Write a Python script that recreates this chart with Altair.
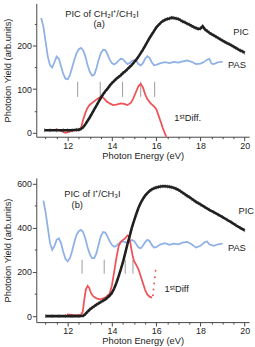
import altair as alt
import pandas as pd

FONT = "Liberation Sans"
X_DOMAIN = [10.58, 20.2]

# ---------------- panel (a): CH2I+ / CH3I ----------------
pic_a_ev = [10.95, 11.2, 11.5, 11.8, 12.0, 12.2, 12.4, 12.5, 12.6, 12.7, 12.8, 12.9, 13.0, 13.1,
            13.2, 13.3, 13.4, 13.5, 13.6, 13.7, 13.8, 13.9, 14.0, 14.1, 14.2, 14.3, 14.4, 14.5,
            14.6, 14.7, 14.8, 14.9, 15.0, 15.1, 15.2, 15.3, 15.4, 15.5, 15.6, 15.7, 15.8, 15.9,
            16.0, 16.1, 16.2, 16.3, 16.4, 16.5, 16.6, 16.7, 16.8, 16.9, 17.0, 17.1, 17.2, 17.3,
            17.4, 17.5, 17.6, 17.7, 17.8, 17.9, 18.0, 18.1, 18.2, 18.3, 18.4, 18.5, 18.6, 18.7,
            18.8, 18.9, 19.0, 19.1, 19.2, 19.3, 19.4, 19.5, 19.6, 19.7, 19.8, 19.9, 20.0]
pic_a = [5, 5, 5, 5, 5, 5, 6, 6, 8, 12, 19, 27, 35, 44,
         53, 62, 71, 80, 88, 95, 101, 108, 114, 119, 124, 128, 132, 137,
         141, 146, 151, 156, 162, 168, 175, 183, 191, 200, 209, 218, 226, 234,
         242, 248, 253, 257, 260, 262, 263, 265, 264, 263, 262, 259, 256, 254,
         251, 249, 246, 243, 241, 239, 240, 245, 238, 234, 230, 227, 224, 221,
         218, 215, 212, 209, 206, 204, 201, 198, 195, 192, 189, 187, 184]

pas_a_ev = [10.8, 10.9, 11.0, 11.1, 11.2, 11.3, 11.4, 11.5, 11.6, 11.7, 11.8, 11.9, 12.0, 12.1,
            12.2, 12.3, 12.4, 12.5, 12.6, 12.7, 12.8, 12.9, 13.0, 13.1, 13.2, 13.3, 13.4, 13.5,
            13.6, 13.7, 13.8, 13.9, 14.0, 14.1, 14.2, 14.3, 14.4, 14.5, 14.6, 14.7, 14.8, 14.9,
            15.0, 15.1, 15.2, 15.3, 15.4, 15.5, 15.6, 15.7, 15.8, 15.9, 16.0, 16.2, 16.4, 16.6,
            16.8, 17.0, 17.2, 17.4, 17.6, 17.8, 18.0, 18.1, 18.2, 18.3, 18.4, 18.5, 18.6, 18.7,
            18.8, 18.9, 19.0]
pas_a = [264, 245, 210, 175, 155, 150, 162, 175, 170, 152, 135, 124, 123, 132,
         150, 168, 183, 192, 195, 190, 175, 155, 140, 131, 133, 148, 168, 183,
         191, 190, 180, 168, 160, 157, 160, 166, 170, 169, 163, 158, 160, 165,
         167, 165, 158, 155, 160, 170, 176, 172, 162, 155, 156, 160, 162, 160,
         163, 161, 164, 166, 163, 158, 159, 161, 164, 168, 170, 159, 158, 160,
         162, 163, 163]

diff_a_ev = [11.45, 11.6, 11.75, 11.9, 12.05, 12.2, 12.35, 12.5, 12.6, 12.7, 12.8, 12.9, 13.0,
             13.15, 13.3, 13.45, 13.55, 13.65, 13.75, 13.9, 14.05, 14.2, 14.4, 14.55, 14.7,
             14.85, 14.95, 15.1, 15.2, 15.3, 15.4, 15.5, 15.6, 15.75, 15.9, 16.0, 16.1,
             16.2, 16.3, 16.4, 16.5]
diff_a = [7, 6, 2, -1, 1, 4, 5, 5, 10, 30, 45, 57, 64,
          70, 76, 81, 82, 78, 72, 67, 63, 64, 67, 66, 63,
          68, 77, 95, 107, 112, 104, 88, 77, 67, 60, 54, 40,
          25, 10, -3, -15]

marks_a_ev = [12.45, 13.47, 14.48, 15.3, 15.93]
marks_a_lo = [82, 82, 82, 82, 82]
marks_a_hi = [117, 117, 117, 117, 117]

text_a = ["PIC of CH\u2082I\u207a/CH\u2083I", "(a)", "PIC", "PAS", "1\u02e2\u1d57Diff."]
text_a_ev = [13.55, 13.42, 19.48, 19.25, 16.82]
text_a_val = [274, 251, 232, 155, 32]
text_a_align = ["center", "center", "left", "left", "left"]

# ---------------- panel (b): I+ / CH3I ----------------
pic_b_ev = [11.0, 11.3, 11.6, 11.9, 12.2, 12.5, 12.7, 12.8, 12.9, 13.0, 13.1, 13.2, 13.3, 13.4,
            13.5, 13.6, 13.7, 13.8, 13.9, 14.0, 14.1, 14.2, 14.3, 14.4, 14.5, 14.6, 14.7, 14.8,
            14.9, 15.0, 15.1, 15.2, 15.3, 15.4, 15.5, 15.6, 15.7, 15.8, 15.9, 16.0, 16.1, 16.2,
            16.3, 16.4, 16.5, 16.6, 16.7, 16.8, 16.9, 17.0, 17.1, 17.2, 17.3, 17.4, 17.5, 17.6,
            17.7, 17.8, 17.9, 18.0, 18.2, 18.4, 18.6, 18.8, 19.0, 19.2, 19.4, 19.6, 19.8, 20.0]
pic_b = [0, 0, 0, 0, 0, 0, 2, 10, 20, 30, 38, 45, 52, 58,
         64, 70, 76, 84, 93, 105, 125, 150, 180, 212, 245, 285, 325, 362,
         400, 432, 462, 490, 512, 530, 545, 556, 566, 573, 578, 582, 584, 586,
         587, 587, 586, 585, 583, 580, 576, 571, 565, 558, 551, 544, 538, 531,
         524, 517, 511, 505, 493, 481, 470, 459, 448, 436, 424, 411, 399, 388]

pas_b_ev = [10.9, 11.0, 11.1, 11.2, 11.3, 11.4, 11.5, 11.6, 11.7, 11.8, 11.9, 12.0, 12.1, 12.2,
            12.3, 12.4, 12.5, 12.6, 12.7, 12.8, 12.9, 13.0, 13.1, 13.2, 13.3, 13.4, 13.5, 13.6,
            13.7, 13.8, 13.9, 14.0, 14.1, 14.2, 14.3, 14.4, 14.5, 14.6, 14.7, 14.8, 14.9, 15.0,
            15.1, 15.2, 15.3, 15.4, 15.5, 15.6, 15.7, 15.8, 15.9, 16.0, 16.2, 16.4, 16.6, 16.8,
            17.0, 17.2, 17.4, 17.6, 17.8, 18.0, 18.2, 18.3, 18.4, 18.6, 18.8, 19.0]
pas_b = [522, 470, 400, 330, 300, 318, 345, 352, 330, 290, 258, 248, 262, 295,
         335, 368, 384, 390, 380, 350, 310, 280, 262, 262, 285, 325, 362, 380,
         378, 360, 338, 322, 314, 318, 328, 336, 338, 335, 332, 338, 344, 340,
         325, 310, 307, 318, 335, 345, 340, 322, 310, 312, 325, 330, 322, 328,
         325, 332, 336, 325, 310, 318, 335, 338, 325, 318, 325, 328]

diff_b_ev = [11.97, 12.2, 12.4, 12.6, 12.68, 12.75, 12.82, 12.9, 12.97, 13.05, 13.15, 13.3,
             13.45, 13.6, 13.75, 13.9, 14.0, 14.1, 14.2, 14.3, 14.4, 14.5, 14.6, 14.7,
             14.78, 14.85, 14.92, 15.0, 15.1, 15.2, 15.3, 15.4, 15.5, 15.6, 15.7, 15.82]
diff_b = [8, 6, 5, 6, 20, 75, 120, 137, 128, 105, 90, 80,
          76, 80, 88, 102, 140, 200, 262, 315, 336, 345, 352, 365,
          360, 320, 280, 248, 232, 212, 180, 150, 118, 98, 88, 84]
diff_b_tail_ev = [15.85, 15.88, 15.91, 15.94, 15.97]
diff_b_tail = [95, 120, 148, 176, 205]

marks_b_ev = [12.65, 13.65, 14.6, 14.95]
marks_b_lo = [192, 192, 192, 192]
marks_b_hi = [255, 255, 255, 255]

text_b = ["PIC of I\u207a/CH\u2083I", "(b)", "PIC", "PAS", "1\u02e2\u1d57Diff"]
text_b_ev = [13.12, 12.43, 19.72, 19.24, 16.38]
text_b_val = [552, 502, 474, 310, 123]
text_b_align = ["center", "center", "left", "left", "left"]

BLACK = "#1c1c1c"
BLUE = "#8fb1e6"
RED = "#ef5257"
GRAY = "#9a9a9a"


def x_enc():
    return alt.X(
        "ev:Q",
        scale=alt.Scale(domain=X_DOMAIN, nice=False, zero=False),
        axis=alt.Axis(
            title="Photon Energy (eV)",
            values=[v / 2 for v in range(22, 41)],
            labelExpr="datum.value % 2 === 0 ? format(datum.value, 'd') : ''",
            tickSize={"condition": {"test": "datum.value % 2 === 0", "value": 4}, "value": 2},
            labelOverlap=False,
            labelPadding=1,
            titlePadding=0,
        ),
    )


def y_enc(domain, minor, major):
    top = domain[1]
    return alt.Y(
        "val:Q",
        scale=alt.Scale(domain=domain, nice=False, zero=False),
        axis=alt.Axis(
            title="Photoion Yield (arb.units)",
            values=list(range(0, int(top) + 1, minor)),
            labelExpr=f"datum.value % {major} === 0 ? format(datum.value, 'd') : ''",
            tickSize={"condition": {"test": f"datum.value % {major} === 0", "value": 4}, "value": 2},
            labelOverlap=False,
            labelPadding=1,
            titlePadding=4,
        ),
    )


def panel(pic_ev, pic, pas_ev, pas, diff_ev, diff, mk_ev, mk_lo, mk_hi,
          txt, txt_ev, txt_val, txt_align, domain, minor, major, height,
          tail_ev=None, tail=None):
    xe = x_enc()
    ye = y_enc(domain, minor, major)
    pas_df = pd.DataFrame({"ev": pas_ev, "val": pas})
    pic_df = pd.DataFrame({"ev": pic_ev, "val": pic})
    diff_df = pd.DataFrame({"ev": diff_ev, "val": diff})
    mk_df = pd.DataFrame({"ev": mk_ev, "val": mk_lo, "hi": mk_hi})
    txt_df = pd.DataFrame({"ev": txt_ev, "val": txt_val, "t": txt, "al": txt_align})

    layers = [
        alt.Chart(pas_df).mark_line(color=BLUE, strokeWidth=1.8, clip=True).encode(x=xe, y=ye),
        alt.Chart(mk_df).mark_rule(color=GRAY, strokeWidth=1).encode(x=xe, y=ye, y2="hi:Q"),
        alt.Chart(diff_df).mark_line(color=RED, strokeWidth=1.8, clip=True).encode(x=xe, y=ye),
        alt.Chart(pic_df).mark_line(color=BLACK, strokeWidth=2.6, clip=True).encode(x=xe, y=ye),
        alt.Chart(pic_df).mark_tick(color="#333", orient="vertical", size=4, thickness=0.8,
                                    clip=True)
        .encode(x=xe, y=ye),
    ]
    if tail_ev is not None:
        tail_df = pd.DataFrame({"ev": tail_ev, "val": tail})
        layers.append(
            alt.Chart(tail_df).mark_point(color=RED, filled=True, size=4, opacity=1)
            .encode(x=xe, y=ye)
        )
    for al in ["center", "left"]:
        sub = txt_df[txt_df["al"] == al]
        layers.append(
            alt.Chart(sub).mark_text(align=al, baseline="middle", font=FONT, fontSize=9.5,
                                     color="#222")
            .encode(x=xe, y=ye, text="t:N")
        )
    return alt.layer(*layers).properties(width=217, height=height)


top = panel(pic_a_ev, pic_a, pas_a_ev, pas_a, diff_a_ev, diff_a,
            marks_a_ev, marks_a_lo, marks_a_hi,
            text_a, text_a_ev, text_a_val, text_a_align,
            [-10, 298], 50, 100, 136)

bottom = panel(pic_b_ev, pic_b, pas_b_ev, pas_b, diff_b_ev, diff_b,
               marks_b_ev, marks_b_lo, marks_b_hi,
               text_b, text_b_ev, text_b_val, text_b_align,
               [-27, 625], 100, 200, 147,
               tail_ev=diff_b_tail_ev, tail=diff_b_tail)

chart = (
    alt.vconcat(top, bottom, spacing=18)
    .properties(padding={"left": 2, "top": 0, "right": 0, "bottom": 0}, background="white")
    .configure_view(stroke=None)
    .configure_axis(
        grid=False,
        domainColor="#444",
        tickColor="#444",
        labelColor="#222",
        titleColor="#222",
        labelFont=FONT,
        titleFont=FONT,
        labelFontSize=9,
        titleFontSize=9.5,
        titleFontWeight="normal",
    )
)

chart.save("out.html", embed_options={"renderer": "svg", "actions": False})
